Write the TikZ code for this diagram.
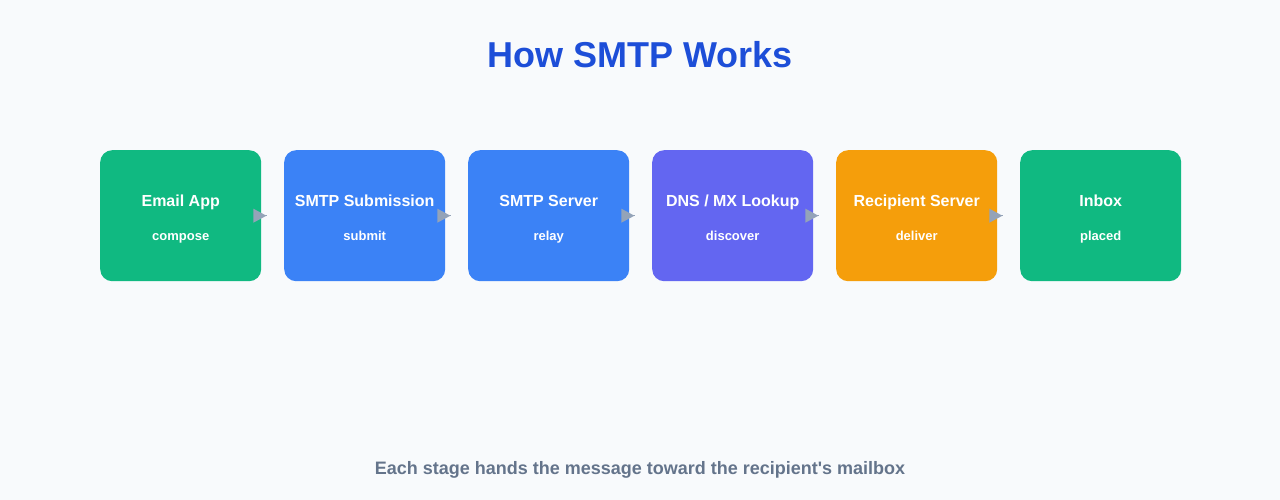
\documentclass[tikz,border=0pt]{standalone}
\usepackage{fontspec}
\setmainfont{Liberation Sans}
\usetikzlibrary{arrows.meta,calc}
\definecolor{bg}{HTML}{F8FAFC}
\definecolor{cgreen}{HTML}{10B981}
\definecolor{cblue}{HTML}{3B82F6}
\definecolor{cindigo}{HTML}{6366F1}
\definecolor{camber}{HTML}{F59E0B}
\definecolor{ctitle}{HTML}{1D4ED8}
\definecolor{cfoot}{HTML}{64748B}
\definecolor{carrow}{HTML}{94A3B8}
\tikzset{
  stage/.style={rounded corners=12pt, minimum width=161pt, minimum height=131pt, inner sep=0pt, anchor=north west},
  lab/.style={text=white, anchor=base, inner sep=0pt, font=\bfseries\fontsize{16}{19}\selectfont},
  sub/.style={text=white, anchor=base, inner sep=0pt, font=\bfseries\fontsize{13}{15}\selectfont},
  tri/.style={fill=carrow},
}
\begin{document}
\begin{tikzpicture}[x=1pt,y=-1pt]
\fill[bg] (0,0) rectangle (1280,500);
\useasboundingbox (0,0) rectangle (1280,500);
\node[text=ctitle, anchor=base, inner sep=0pt, font=\bfseries\fontsize{36}{40}\selectfont] (title) at (640,68) {How SMTP Works};
\foreach \i/\c/\n/\t/\s in {0/cgreen/a/{Email App}/compose, 1/cblue/b/{SMTP Submission}/submit, 2/cblue/c/{SMTP Server}/relay, 3/cindigo/d/{DNS / MX Lookup}/discover, 4/camber/e/{Recipient Server}/deliver, 5/cgreen/f/{Inbox}/placed}{
  \node[stage, fill=\c] (\n) at (100+184*\i,150) {};
  \node[lab] (\n l) at ($(\n.north)+(0,56)$) {\t};
  \node[sub] (\n s) at ($(\n.north)+(0,90)$) {\s};
}
\foreach \p/\q in {a/b, b/c, c/d, d/e, e/f}{
  \draw[carrow, line width=1pt] (\p.east) -- ($(\p.east)+(6,0)$);
  \fill[tri] ($(\p.east)+(-8,-7)$) -- ($(\p.east)+(5,0)$) -- ($(\p.east)+(-8,7)$) -- cycle;
}
\node[text=cfoot, anchor=base, inner sep=0pt, font=\bfseries\fontsize{18}{22}\selectfont] (foot) at (640,474) {Each stage hands the message toward the recipient\textquotesingle s mailbox};
\end{tikzpicture}
\end{document}
